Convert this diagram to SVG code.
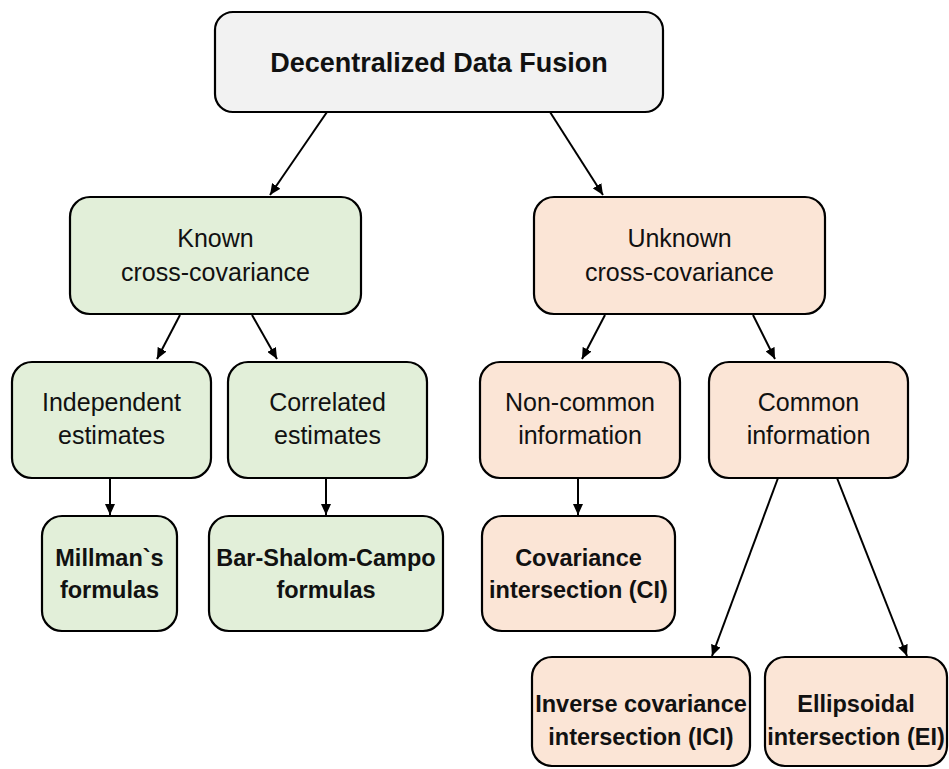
<svg xmlns="http://www.w3.org/2000/svg" width="949" height="769" viewBox="0 0 949 769">
  <defs>
    <marker id="arrow" markerUnits="userSpaceOnUse" markerWidth="11" markerHeight="10" refX="11" refY="5" orient="auto">
      <path d="M0,0 L11,5 L0,10 z" fill="#000"/>
    </marker>
    <style>
      .box { stroke: #000; stroke-width: 2.2; }
      .root { fill: #f2f2f2; }
      .known { fill: #e2efd9; }
      .unknown { fill: #fbe5d6; }
      text { font-family: "Liberation Sans", Arial, sans-serif; fill: #111; text-anchor: middle; }
      .reg { font-size: 25px; }
      .bold { font-size: 23.5px; font-weight: bold; }
      .title { font-size: 27px; font-weight: bold; }
      .conn line { stroke: #000; stroke-width: 2; marker-end: url(#arrow); }
    </style>
  </defs>
  <rect width="949" height="769" fill="#fff"/>

  <!-- connectors -->
  <g id="connectors" class="conn">
    <line x1="327" y1="112" x2="270" y2="195"/>
    <line x1="550" y1="112" x2="603" y2="195"/>
    <line x1="180" y1="315" x2="157" y2="359"/>
    <line x1="252" y1="315" x2="277" y2="359"/>
    <line x1="605" y1="315" x2="582" y2="359"/>
    <line x1="753" y1="315" x2="775" y2="359"/>
    <line x1="110" y1="478" x2="110" y2="515"/>
    <line x1="326" y1="478" x2="326" y2="515"/>
    <line x1="578" y1="478" x2="578" y2="515"/>
    <line x1="778" y1="478" x2="712" y2="656"/>
    <line x1="837" y1="478" x2="907" y2="656"/>
  </g>

  <!-- root -->
  <g id="ddf">
    <rect class="box root" x="215" y="12" width="448" height="100" rx="18"/>
    <text class="title" x="439" y="72">Decentralized Data Fusion</text>
  </g>

  <!-- known cross-covariance branch -->
  <g id="known">
    <rect class="box known" x="70" y="197" width="291" height="117" rx="20"/>
    <text class="reg" x="215.5" y="247">Known</text>
    <text class="reg" x="215.5" y="281">cross-covariance</text>
  </g>
  <g id="independent">
    <rect class="box known" x="12" y="362" width="199" height="116" rx="20"/>
    <text class="reg" x="111.5" y="411">Independent</text>
    <text class="reg" x="111.5" y="444">estimates</text>
  </g>
  <g id="correlated">
    <rect class="box known" x="228" y="362" width="199" height="116" rx="20"/>
    <text class="reg" x="327.5" y="411">Correlated</text>
    <text class="reg" x="327.5" y="444">estimates</text>
  </g>
  <g id="millman">
    <rect class="box known" x="42" y="516" width="135" height="115" rx="20"/>
    <text class="bold" x="109.5" y="566">Millman`s</text>
    <text class="bold" x="109.5" y="598">formulas</text>
  </g>
  <g id="bsc">
    <rect class="box known" x="209" y="516" width="234" height="115" rx="20"/>
    <text class="bold" x="326" y="566">Bar-Shalom-Campo</text>
    <text class="bold" x="326" y="598">formulas</text>
  </g>

  <!-- unknown cross-covariance branch -->
  <g id="unknown">
    <rect class="box unknown" x="534" y="197" width="291" height="117" rx="20"/>
    <text class="reg" x="679.5" y="247">Unknown</text>
    <text class="reg" x="679.5" y="281">cross-covariance</text>
  </g>
  <g id="noncommon">
    <rect class="box unknown" x="480" y="362" width="200" height="116" rx="20"/>
    <text class="reg" x="580" y="411">Non-common</text>
    <text class="reg" x="580" y="444">information</text>
  </g>
  <g id="common">
    <rect class="box unknown" x="709" y="362" width="199" height="116" rx="20"/>
    <text class="reg" x="808.5" y="411">Common</text>
    <text class="reg" x="808.5" y="444">information</text>
  </g>
  <g id="ci">
    <rect class="box unknown" x="482" y="516" width="193" height="115" rx="20"/>
    <text class="bold" x="578.5" y="566">Covariance</text>
    <text class="bold" x="578.5" y="598">intersection (CI)</text>
  </g>
  <g id="ici">
    <rect class="box unknown" x="532" y="657" width="218" height="109" rx="20"/>
    <text class="bold" x="641" y="712">Inverse covariance</text>
    <text class="bold" x="641" y="745">intersection (ICI)</text>
  </g>
  <g id="ei">
    <rect class="box unknown" x="765" y="657" width="182" height="109" rx="20"/>
    <text class="bold" x="856" y="712">Ellipsoidal</text>
    <text class="bold" x="856" y="745">intersection (EI)</text>
  </g>
</svg>
